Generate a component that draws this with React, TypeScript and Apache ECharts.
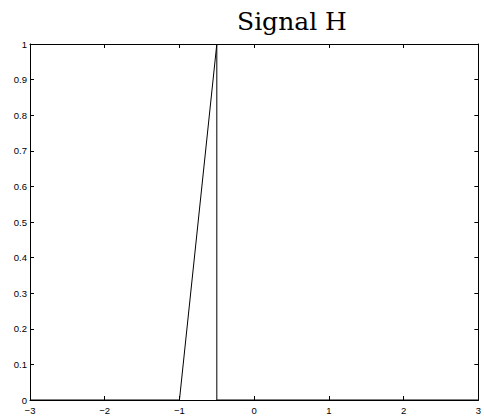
import React, { useEffect, useRef } from "react";
import * as echarts from "echarts";

const titleText = "Signal H";
const xPoints = [-3, -1, -0.5, -0.5, 3];
const yPoints = [0, 0, 1, 0, 0];
const xMin = -3;
const xMax = 3;
const yMin = 0;
const yMax = 1;

export default function App() {
  const ref = useRef<HTMLDivElement>(null);
  useEffect(() => {
    if (!ref.current) return;
    const chart = echarts.init(ref.current, null, { renderer: "svg" });
    const labelStyle = {
      color: "#000",
      fontFamily: "Liberation Sans, Arial, sans-serif",
      fontSize: 9.5,
    };
    const fmtX = (v: number) => (v < 0 ? "\u2212" + Math.abs(v) : String(v));
    const fmtY = (v: number) => {
      const r = Math.round(v * 10) / 10;
      return String(r);
    };
    chart.setOption({
      animation: false,
      backgroundColor: "#fff",
      graphic: [
        {
          type: "text",
          left: 237,
          top: 9,
          style: {
            text: titleText,
            fontFamily: "DejaVu Serif, serif",
            fontSize: 25,
            fill: "#000",
          },
        },
      ],
      grid: { left: 30, right: 3, top: 44, bottom: 16, containLabel: false },
      xAxis: [
        {
          type: "value",
          min: xMin,
          max: xMax,
          interval: 1,
          position: "bottom",
          axisLine: { show: true, onZero: false, lineStyle: { color: "#000", width: 1 } },
          axisTick: { show: true, inside: true, length: 4, lineStyle: { color: "#000" } },
          axisLabel: { ...labelStyle, margin: 5, lineHeight: 10, formatter: fmtX },
          splitLine: { show: false },
        },
        {
          type: "value",
          min: xMin,
          max: xMax,
          interval: 1,
          position: "top",
          axisLine: { show: true, onZero: false, lineStyle: { color: "#000", width: 1 } },
          axisTick: { show: true, inside: true, length: 4, lineStyle: { color: "#000" } },
          axisLabel: { show: false },
          splitLine: { show: false },
        },
      ],
      yAxis: [
        {
          type: "value",
          min: yMin,
          max: yMax,
          interval: 0.1,
          position: "left",
          axisLine: { show: true, onZero: false, lineStyle: { color: "#000", width: 1 } },
          axisTick: { show: true, inside: true, length: 4, lineStyle: { color: "#000" } },
          axisLabel: { ...labelStyle, margin: 3, lineHeight: 8, formatter: fmtY },
          splitLine: { show: false },
        },
        {
          type: "value",
          min: yMin,
          max: yMax,
          interval: 0.1,
          position: "right",
          axisLine: { show: true, onZero: false, lineStyle: { color: "#000", width: 1 } },
          axisTick: { show: true, inside: true, length: 4, lineStyle: { color: "#000" } },
          axisLabel: { show: false },
          splitLine: { show: false },
        },
      ],
      series: [
        {
          type: "line",
          xAxisIndex: 0,
          yAxisIndex: 0,
          data: xPoints.map((x, i) => [x, yPoints[i]]),
          showSymbol: false,
          lineStyle: { color: "#000", width: 1 },
          clip: false,
        },
      ],
    });
    return () => chart.dispose();
  }, []);
  return (
    <div
      ref={ref}
      style={{ position: "fixed", left: 0, top: 0, width: 484, height: 416 }}
    />
  );
}
